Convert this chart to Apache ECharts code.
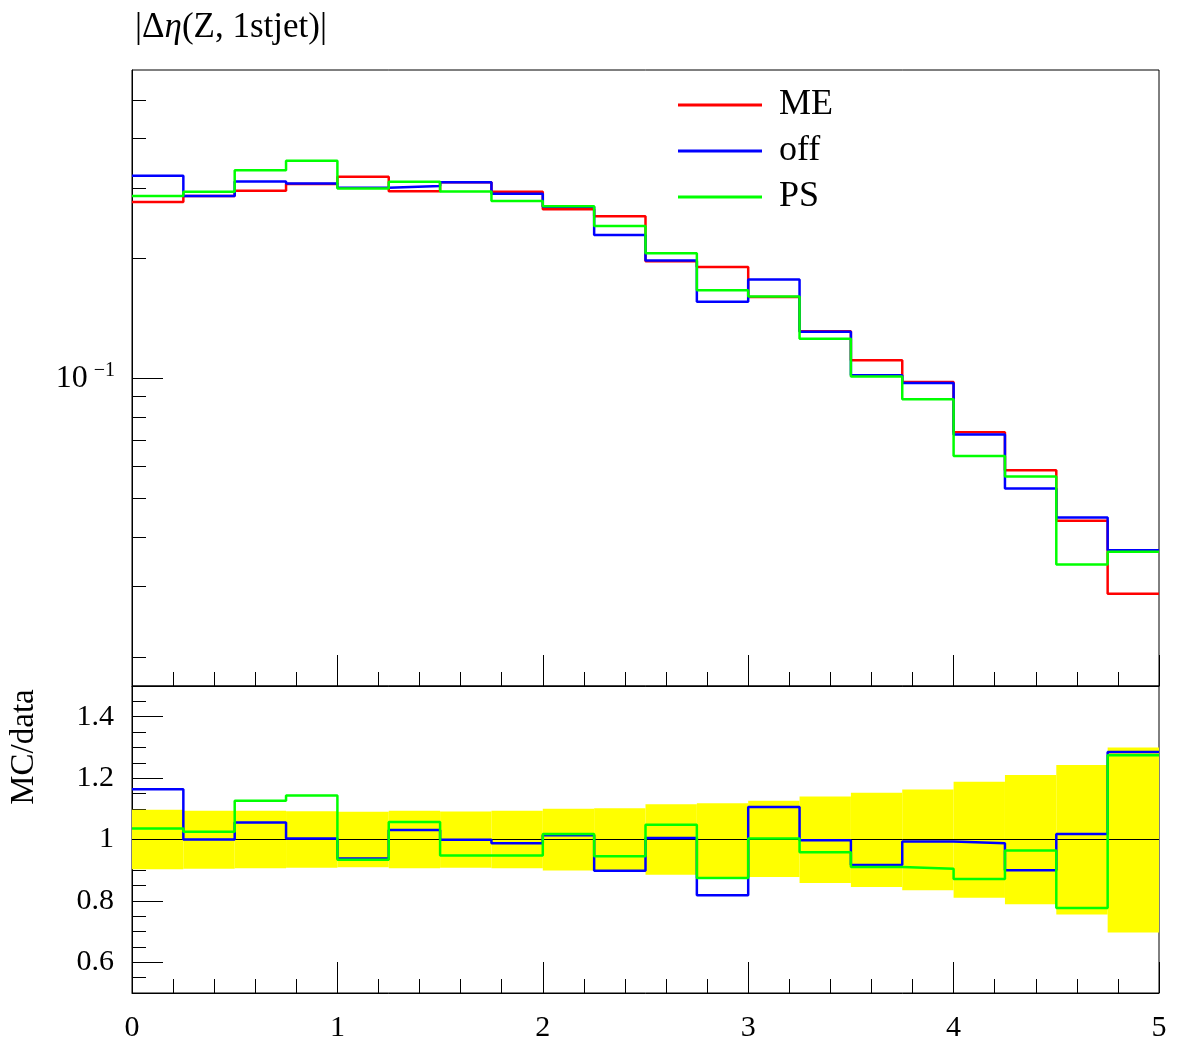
<!DOCTYPE html>
<html>
<head>
<meta charset="utf-8">
<script src="https://cdn.jsdelivr.net/npm/echarts@6/dist/echarts.min.js"></script>
<style>
html,body{margin:0;padding:0;background:#fff;}
#chart{width:1179px;height:1052px;}
</style>
</head>
<body>
<div id="chart"></div>
<script>
// ---- data ----
const binEdges = [0, 0.25, 0.5, 0.75, 1, 1.25, 1.5, 1.75, 2, 2.25, 2.5, 2.75, 3, 3.25, 3.5, 3.75, 4, 4.25, 4.5, 4.75, 5];
const valuesME  = [0.2769, 0.2867, 0.2956, 0.3074, 0.3206, 0.2946, 0.3106, 0.2939, 0.2656, 0.2550, 0.1966, 0.1902, 0.1600, 0.1312, 0.1110, 0.0979, 0.0732, 0.0588, 0.0439, 0.0288];
const valuesOff = [0.3223, 0.2867, 0.3119, 0.3083, 0.3007, 0.3037, 0.3103, 0.2904, 0.2693, 0.2290, 0.1976, 0.1556, 0.1770, 0.1309, 0.1018, 0.0973, 0.0723, 0.0529, 0.0447, 0.0370];
const valuesPS  = [0.2869, 0.2939, 0.3328, 0.3514, 0.2994, 0.3114, 0.2944, 0.2786, 0.2704, 0.2410, 0.2060, 0.1664, 0.1605, 0.1257, 0.1011, 0.0886, 0.0638, 0.0567, 0.0341, 0.0367];
const bandLow   = [0.903, 0.905, 0.906, 0.908, 0.910, 0.906, 0.908, 0.906, 0.899, 0.899, 0.885, 0.878, 0.878, 0.858, 0.845, 0.835, 0.810, 0.789, 0.756, 0.697];
const bandHigh  = [1.097, 1.094, 1.094, 1.092, 1.090, 1.094, 1.091, 1.094, 1.100, 1.102, 1.115, 1.118, 1.126, 1.140, 1.152, 1.163, 1.188, 1.210, 1.243, 1.300];
const seriesNames = ['ME', 'off', 'PS'];
const logMajorTicks = [0.1];
const logMinorTicks = [0.02, 0.03, 0.04, 0.05, 0.06, 0.07, 0.08, 0.09, 0.2, 0.3, 0.4, 0.5];
const ratioMajorTicks = [0.6, 0.8, 1, 1.2, 1.4];
const ratioMinorTicks = [0.55, 0.65, 0.7, 0.75, 0.85, 0.9, 0.95, 1.05, 1.1, 1.15, 1.25, 1.3, 1.35, 1.45];

// ---- layout / style ----
const FONT = 'Liberation Serif';
const COLORS = ['#ff0000', '#0000ff', '#00ff00'];
const LW = 2.5;
const yMinTop = 0.016893, yMaxTop = 0.5938;

function stepData(vals) {
  const d = vals.map((v, i) => [binEdges[i], v]);
  d.push([binEdges[binEdges.length - 1], vals[vals.length - 1]]);
  return d;
}
function ratio(vals) { return vals.map((v, i) => v / valuesME[i]); }

const chart = echarts.init(document.getElementById('chart'), null, {renderer: 'canvas'});

const xCommon = {
  type: 'value', min: 0, max: 5, interval: 1,
  axisLine: {show: true, lineStyle: {color: '#000', width: 1}},
  axisTick: {show: true, inside: true, length: 31, lineStyle: {color: '#000', width: 1}},
  minorTick: {show: true, splitNumber: 5, length: 14, lineStyle: {color: '#000', width: 1}},
  splitLine: {show: false}, minorSplitLine: {show: false}
};

const option = {
  animation: false,
  backgroundColor: '#fff',
  title: {
    text: '{a||Δ}{i|η}{a|(Z, 1stjet)|}',
    left: 130, top: 5,
    textStyle: {
      fontWeight: 'normal',
      rich: {
        a: {fontFamily: FONT, fontSize: 35, fontWeight: 'normal', color: '#000'},
        i: {fontFamily: FONT, fontSize: 35, fontWeight: 'normal', fontStyle: 'italic', color: '#000'}
      }
    }
  },
  legend: {
    orient: 'vertical', left: 673, top: 77,
    itemWidth: 84, itemHeight: 3, itemGap: 0, icon: 'rect',
    data: seriesNames,
    textStyle: {fontFamily: FONT, fontSize: 36, color: '#000', lineHeight: 46, padding: [0, 0, 0, 12]}
  },
  graphic: [{
    type: 'text', x: 24, y: 747, rotation: Math.PI / 2,
    style: {text: 'MC/data', fontFamily: FONT, fontSize: 33, fill: '#000', align: 'center', verticalAlign: 'middle'}
  }],
  grid: [
    {left: 132, top: 70, width: 1027, height: 616, show: true, borderColor: '#000', borderWidth: 1, backgroundColor: 'transparent'},
    {left: 132, top: 686, width: 1027, height: 307, show: true, borderColor: '#000', borderWidth: 1, backgroundColor: 'transparent'}
  ],
  xAxis: [
    Object.assign({}, xCommon, {gridIndex: 0, axisLabel: {show: false}}),
    Object.assign({}, xCommon, {gridIndex: 1, axisLabel: {show: true, fontFamily: FONT, fontSize: 30, color: '#000', margin: 20, showMinLabel: true, showMaxLabel: true}})
  ],
  yAxis: [
    {
      gridIndex: 0, type: 'log', logBase: 10, min: yMinTop, max: yMaxTop, position: 'left',
      axisLine: {show: true, lineStyle: {color: '#000'}},
      axisTick: {show: true, inside: true, length: 31, customValues: logMajorTicks, lineStyle: {color: '#000'}},
      axisLabel: {
        show: true, customValues: logMajorTicks, margin: 17,
        formatter: function () { return '{b|10}{s|−1}'; },
        rich: {
          b: {fontFamily: FONT, fontSize: 32, lineHeight: 36, color: '#000'},
          s: {fontFamily: FONT, fontSize: 20, lineHeight: 20, verticalAlign: 'top', color: '#000', padding: [0, 0, 0, 6]}
        }
      },
      splitLine: {show: false}
    },
    {
      gridIndex: 0, type: 'log', logBase: 10, min: yMinTop, max: yMaxTop, position: 'left', offset: 0,
      axisLine: {show: false},
      axisTick: {show: true, inside: true, length: 14, customValues: logMinorTicks, lineStyle: {color: '#000'}},
      axisLabel: {show: false},
      splitLine: {show: false}
    },
    {
      gridIndex: 1, type: 'value', min: 0.5, max: 1.5, position: 'left',
      axisLine: {show: true, lineStyle: {color: '#000'}},
      axisTick: {show: true, inside: true, length: 31, customValues: ratioMajorTicks, lineStyle: {color: '#000'}},
      axisLabel: {show: true, customValues: ratioMajorTicks, margin: 18, fontFamily: FONT, fontSize: 30, color: '#000'},
      splitLine: {show: false}
    },
    {
      gridIndex: 1, type: 'value', min: 0.5, max: 1.5, position: 'left', offset: 0,
      axisLine: {show: false},
      axisTick: {show: true, inside: true, length: 14, customValues: ratioMinorTicks, lineStyle: {color: '#000'}},
      axisLabel: {show: false},
      splitLine: {show: false}
    }
  ],
  series: [
    {name: 'ME', type: 'line', xAxisIndex: 0, yAxisIndex: 0, step: 'end', showSymbol: false, color: COLORS[0],
     lineStyle: {color: COLORS[0], width: LW}, data: stepData(valuesME)},
    {name: 'off', type: 'line', xAxisIndex: 0, yAxisIndex: 0, step: 'end', showSymbol: false, color: COLORS[1],
     lineStyle: {color: COLORS[1], width: LW}, data: stepData(valuesOff)},
    {name: 'PS', type: 'line', xAxisIndex: 0, yAxisIndex: 0, step: 'end', showSymbol: false, color: COLORS[2],
     lineStyle: {color: COLORS[2], width: LW}, data: stepData(valuesPS)},
    {
      name: 'band', type: 'custom', xAxisIndex: 1, yAxisIndex: 2,
      data: bandLow.map((lo, i) => [binEdges[i], binEdges[i + 1], lo, bandHigh[i]]),
      encode: {x: [0, 1], y: [2, 3]},
      renderItem: function (params, api) {
        const p0 = api.coord([api.value(0), api.value(3)]);
        const p1 = api.coord([api.value(1), api.value(2)]);
        return {type: 'rect', shape: {x: p0[0], y: p0[1], width: p1[0] - p0[0], height: p1[1] - p0[1]},
                style: {fill: '#ffff00'}};
      }
    },
    {name: 'unity', type: 'line', xAxisIndex: 1, yAxisIndex: 2, showSymbol: false, color: '#000',
     lineStyle: {color: '#000', width: 1}, data: [[0, 1], [5, 1]]},
    {name: 'off ratio', type: 'line', xAxisIndex: 1, yAxisIndex: 2, step: 'end', showSymbol: false, color: COLORS[1],
     lineStyle: {color: COLORS[1], width: LW}, data: stepData(ratio(valuesOff))},
    {name: 'PS ratio', type: 'line', xAxisIndex: 1, yAxisIndex: 2, step: 'end', showSymbol: false, color: COLORS[2],
     lineStyle: {color: COLORS[2], width: LW}, data: stepData(ratio(valuesPS))}
  ]
};
chart.setOption(option);
</script>
</body>
</html>
